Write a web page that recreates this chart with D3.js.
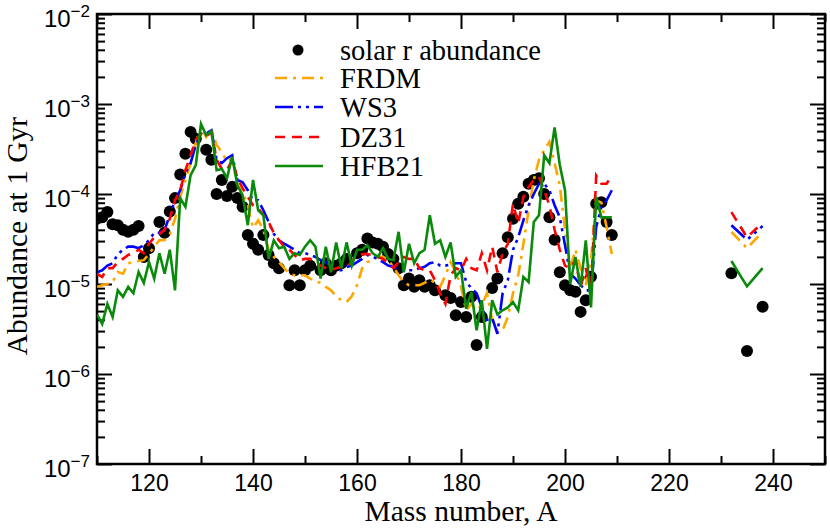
<!DOCTYPE html>
<html lang="en">
<head>
    <meta charset="UTF-8">
    <title>r-process abundances at 1 Gyr</title>
    <script src="https://d3js.org/d3.v7.min.js"></script>
    <style>
        body { margin: 0; background: #fff; }
        .tick text { font-family: "Liberation Sans", Arial, sans-serif; font-size: 23px; fill: #000; }
        .tick line { stroke: #000; stroke-width: 2; }
        .title { font-family: "Liberation Serif", "Times New Roman", serif; font-size: 29.5px; fill: #000; }
        .legend text { font-family: "Liberation Serif", "Times New Roman", serif; font-size: 28.5px; fill: #000; }
    </style>
</head>
<body>
<div id="chart"></div>
<script>
// solar r-process abundances (mass number, abundance)
const solarA = [110,111,112,113,114,115,116,117,118,119,120,122,123,124,125,126,127,128,129,
    131,132,133,134,135,136,137,138,139,140,141,142,143,144,145,147,148,149,150,151,
    153,154,155,156,157,158,160,161,162,163,164,165,166,167,168,169,170,171,172,173,174,175,
    177,178,179,180,181,182,183,184,186,187,188,189,190,191,192,193,194,195,196,197,198,199,
    200,201,202,203,204,205,206,207,208,209,232,235,238];
const solarR = [5.3e-5,5.5e-5,6.3e-5,4.6e-5,4.5e-5,4.0e-5,3.8e-5,4.0e-5,4.4e-5,2.0e-5,2.5e-5,
    4.9e-5,3.7e-5,6.4e-5,9.0e-5,1.65e-4,2.8e-4,4.9e-4,4.1e-4,
    3.1e-4,2.4e-4,1.0e-4,1.43e-4,9.5e-5,1.2e-4,9.0e-5,7.2e-5,3.5e-5,2.8e-5,2.4e-5,3.5e-5,2.1e-5,1.7e-5,1.5e-5,
    9.7e-6,1.42e-5,9.7e-6,1.42e-5,1.6e-5,
    1.42e-5,1.7e-5,1.42e-5,1.6e-5,1.7e-5,1.9e-5,
    2.2e-5,2.4e-5,3.2e-5,2.9e-5,2.8e-5,2.6e-5,2.15e-5,1.9e-5,1.5e-5,9.7e-6,1.15e-5,9.3e-6,1.1e-5,9.3e-6,9.7e-6,8.5e-6,
    7.5e-6,7.0e-6,4.5e-6,6.3e-6,4.3e-6,7.2e-6,2.1e-6,4.3e-6,
    9.0e-6,1.15e-5,2.2e-5,3.3e-5,5.3e-5,7.8e-5,9.3e-5,1.3e-4,1.43e-4,1.5e-4,1.0e-4,5.5e-5,3.1e-5,1.35e-5,
    9.7e-6,8.5e-6,8.2e-6,4.9e-6,6.6e-6,1.2e-5,7.8e-5,8.1e-5,4.9e-5,3.5e-5,1.32e-5,1.8e-6,5.6e-6];

// model curves: one value per mass number from 110 to 209, then the actinides
const modelA = d3.range(110, 210);
const actinideA = [232, 235, 238];

const frdm = [
    9.3e-6,9.7e-6,1.0e-5,1.05e-5,1.36e-5,1.3e-5,1.7e-5,1.75e-5,1.8e-5,1.84e-5,
    2.15e-5,2.6e-5,3.06e-5,3.06e-5,3.6e-5,5.3e-5,9.3e-5,1.43e-4,2.2e-4,3.7e-4,
    5.5e-4,4.3e-4,5.3e-4,3.5e-4,2.9e-4,2.3e-4,2.5e-4,1.25e-4,1.05e-4,7.5e-5,
    4.2e-5,5.1e-5,4.0e-5,2.4e-5,2.0e-5,1.75e-5,1.5e-5,1.3e-5,1.25e-5,1.25e-5,
    1.25e-5,1.15e-5,1.07e-5,1.03e-5,9.3e-6,8.5e-6,7.3e-6,6.6e-6,6.3e-6,7.3e-6,
    9.7e-6,1.5e-5,1.75e-5,1.84e-5,2.0e-5,2.0e-5,1.84e-5,1.55e-5,1.25e-5,1.05e-5,
    9.7e-6,9.7e-6,9.7e-6,1.03e-5,1.12e-5,1.03e-5,9.3e-6,1.25e-5,1.75e-5,1.36e-5,
    9.3e-6,5.1e-6,6.0e-6,5.1e-6,5.8e-6,7.9e-6,4.0e-6,3.06e-6,3.06e-6,4.3e-6,
    7.9e-6,1.25e-5,2.8e-5,6.6e-5,1.43e-4,2.4e-4,3.07e-4,3.8e-4,2.2e-4,1.25e-4,
    4.0e-5,1.5e-5,2.4e-5,1.5e-5,9.7e-6,1.84e-5,8.5e-5,8.0e-5,4.3e-5,2.15e-5];
const ws3 = [
    1.35e-5,1.42e-5,1.6e-5,1.7e-5,2.15e-5,2.4e-5,2.6e-5,2.6e-5,2.5e-5,2.7e-5,
    3.06e-5,3.7e-5,3.7e-5,4.0e-5,5.8e-5,8.5e-5,1.1e-4,1.7e-4,2.2e-4,3.5e-4,
    4.7e-4,4.7e-4,5.1e-4,2.4e-4,2.2e-4,2.5e-4,2.7e-4,1.43e-4,1.35e-4,1.1e-4,
    8.5e-5,8.5e-5,6.6e-5,4.9e-5,3.6e-5,3.06e-5,2.8e-5,2.6e-5,2.4e-5,2.2e-5,
    2.2e-5,2.1e-5,2.0e-5,1.84e-5,1.75e-5,1.55e-5,1.42e-5,1.42e-5,1.55e-5,1.6e-5,
    1.75e-5,1.9e-5,2.1e-5,2.0e-5,1.9e-5,1.75e-5,1.6e-5,1.55e-5,1.42e-5,1.42e-5,
    1.42e-5,1.42e-5,1.5e-5,1.55e-5,1.7e-5,1.75e-5,1.6e-5,1.6e-5,1.65e-5,1.7e-5,
    1.7e-5,1.05e-5,9.0e-6,7.9e-6,5.5e-6,4.0e-6,4.2e-6,2.8e-6,7.9e-6,1.1e-5,
    2.4e-5,3.3e-5,5.1e-5,7.5e-5,1.0e-4,1.3e-4,1.3e-4,1.1e-4,7.5e-5,5.5e-5,
    2.7e-5,1.3e-5,1.15e-5,9.7e-6,8.5e-6,8.5e-6,4.3e-5,7.2e-5,8.5e-5,1.1e-4];
const dz31 = [
    1.3e-5,1.2e-5,1.5e-5,1.5e-5,1.75e-5,1.9e-5,2.1e-5,2.2e-5,2.4e-5,2.2e-5,
    2.8e-5,3.3e-5,3.6e-5,4.0e-5,5.3e-5,8.5e-5,1.1e-4,1.84e-4,2.7e-4,4.0e-4,
    4.7e-4,4.3e-4,4.9e-4,2.4e-4,1.9e-4,1.84e-4,2.4e-4,1.5e-4,1.16e-4,9.3e-5,
    7.5e-5,7.0e-5,5.8e-5,4.9e-5,3.7e-5,3.06e-5,2.6e-5,2.4e-5,2.1e-5,1.84e-5,
    1.9e-5,1.9e-5,1.75e-5,1.6e-5,1.5e-5,1.42e-5,1.5e-5,1.55e-5,1.55e-5,1.75e-5,
    2.1e-5,2.15e-5,2.15e-5,2.1e-5,2.0e-5,1.9e-5,1.7e-5,1.5e-5,1.75e-5,2.0e-5,
    1.9e-5,1.9e-5,1.5e-5,1.42e-5,1.42e-5,1.1e-5,7.9e-6,6.0e-6,1.25e-5,1.5e-5,
    1.42e-5,1.9e-5,1.5e-5,1.42e-5,2.2e-5,1.42e-5,2.6e-5,1.35e-5,2.2e-5,2.8e-5,
    7.8e-5,4.7e-5,9.3e-5,1.2e-4,1.43e-4,1.55e-4,1.1e-4,7.5e-5,4.0e-5,2.4e-5,
    1.6e-5,1.5e-5,1.84e-5,9.3e-6,1.5e-5,7.9e-6,1.6e-4,1.3e-4,1.3e-4,1.6e-4];
const hfb21 = [
    4.6e-6,3.6e-6,6.0e-6,4.3e-6,8.5e-6,7.2e-6,9.3e-6,7.9e-6,1.36e-5,1.03e-5,
    1.75e-5,1.15e-5,2.2e-5,1.3e-5,2.4e-5,8.5e-6,9.0e-5,7.2e-5,1.62e-4,2.1e-4,
    6.0e-4,4.5e-4,5.0e-4,1.84e-4,1.9e-4,1.5e-4,2.6e-4,1.25e-4,9.7e-5,4.5e-5,
    1.43e-4,6.6e-5,5.8e-5,1.9e-5,3.06e-5,2.5e-5,2.6e-5,1.9e-5,2.2e-5,2.1e-5,
    2.6e-5,3.06e-5,2.6e-5,1.15e-5,2.6e-5,1.35e-5,2.9e-5,1.5e-5,2.9e-5,1.6e-5,
    2.4e-5,2.4e-5,2.7e-5,2.2e-5,2.0e-5,2.5e-5,1.9e-5,1.84e-5,3.8e-5,1.35e-5,
    2.8e-5,1.7e-5,2.2e-5,2.4e-5,5.8e-5,2.8e-5,3.06e-5,2.0e-5,2.9e-5,1.2e-5,
    1.42e-5,5.3e-6,8.2e-6,3.06e-6,6.6e-6,1.9e-6,6.6e-6,4.6e-6,5.1e-6,5.5e-6,
    6.3e-6,5.1e-6,1.2e-5,1.05e-5,4.9e-5,5.8e-5,2.7e-4,2.2e-4,5.5e-4,2.1e-4,
    1.1e-4,1.0e-5,2.0e-5,9.3e-6,3.06e-5,5.5e-6,9.3e-5,5.5e-5,5.5e-5,5.5e-5];

const frdmAct = [3.8e-5, 2.5e-5, 3.8e-5];
const ws3Act = [4.5e-5, 3.1e-5, 4.4e-5];
const dz31Act = [6.3e-5, 3.3e-5, 4.8e-5];
const hfb21Act = [1.8e-5, 9.4e-6, 1.5e-5];

const xMajor = [120, 140, 160, 180, 200, 220, 240];
const xMinor = [110, 130, 150, 170, 190, 210, 230, 250];
const yDecades = [1e-7, 1e-6, 1e-5, 1e-4, 1e-3, 1e-2];

// Set up dimensions
const W = 830, H = 528;
const margin = {top: 14, right: 5, bottom: 64, left: 97};
const width = W - margin.left - margin.right;
const height = H - margin.top - margin.bottom;

const svg = d3.select("#chart").append("svg")
    .attr("width", W)
    .attr("height", H);

const g = svg.append("g")
    .attr("transform", `translate(${margin.left},${margin.top})`);

const x = d3.scaleLinear().domain([110, 250]).range([0, width]);
const y = d3.scaleLog().domain([1e-7, 1e-2]).range([height, 0]);

svg.append("defs").append("clipPath").attr("id", "plotclip")
    .append("rect").attr("width", width).attr("height", height);

// minor y ticks: 2..9 per decade
const yMinor = [];
yDecades.slice(0, -1).forEach(d => {
    for (let k = 2; k <= 9; k++) yMinor.push(d * k);
});

// Axes, ticks pointing inward on all four sides
const addAxis = (axis, transform) => {
    const a = g.append("g").attr("transform", transform).call(axis);
    a.select(".domain").remove();
    return a;
};
addAxis(d3.axisBottom(x).tickValues(xMajor).tickSize(-15).tickPadding(11).tickFormat(d3.format("d")), `translate(0,${height})`);
addAxis(d3.axisBottom(x).tickValues(xMinor).tickSize(-8).tickFormat(""), `translate(0,${height})`);
addAxis(d3.axisTop(x).tickValues(xMajor).tickSize(-15).tickFormat(""), "translate(0,0)");
addAxis(d3.axisTop(x).tickValues(xMinor).tickSize(-8).tickFormat(""), "translate(0,0)");

const yAx = addAxis(d3.axisLeft(y).tickValues(yDecades).tickSize(-15).tickFormat(""), "translate(0,0)");
addAxis(d3.axisLeft(y).tickValues(yMinor).tickSize(-8).tickFormat(""), "translate(0,0)");
addAxis(d3.axisRight(y).tickValues(yDecades).tickSize(-15).tickFormat(""), `translate(${width},0)`);
addAxis(d3.axisRight(y).tickValues(yMinor).tickSize(-8).tickFormat(""), `translate(${width},0)`);

// y labels as 10^n
yAx.selectAll(".tick").append("text")
    .attr("x", -7)
    .attr("y", 12)
    .attr("text-anchor", "end")
    .style("font-size", "24px")
    .each(function(d) {
        const t = d3.select(this);
        t.append("tspan").text("10");
        t.append("tspan").attr("dy", -10).style("font-size", "17px")
            .text("\u2212" + Math.round(-Math.log10(d)));
    });

// frame
g.append("rect")
    .attr("width", width).attr("height", height)
    .attr("fill", "none").attr("stroke", "#000").attr("stroke-width", 2.5);

// axis titles
svg.append("text").attr("class", "title")
    .attr("x", margin.left + width / 2).attr("y", 521)
    .attr("text-anchor", "middle")
    .text("Mass number, A");
svg.append("text").attr("class", "title")
    .attr("transform", `translate(27,236) rotate(-90)`)
    .attr("text-anchor", "middle")
    .text("Abundance at 1 Gyr");

// data
const plot = g.append("g").attr("clip-path", "url(#plotclip)");

const solar = solarA.map((a, i) => ({a: a, v: solarR[i]}));
plot.selectAll(".dot")
    .data(solar)
    .enter().append("circle")
    .attr("class", "dot")
    .attr("cx", d => x(d.a))
    .attr("cy", d => y(d.v))
    .attr("r", 6)
    .attr("fill", "#000");

const models = [
    {name: "FRDM", vals: frdm, act: frdmAct, color: "#ffa500", dash: "12,6,3,6"},
    {name: "WS3", vals: ws3, act: ws3Act, color: "#0000ff", dash: "18,5,3,5,3,5"},
    {name: "DZ31", vals: dz31, act: dz31Act, color: "#ff0000", dash: "10,7"},
    {name: "HFB21", vals: hfb21, act: hfb21Act, color: "#0a8a0a", dash: null}
];

const line = d3.line().x(d => x(d.a)).y(d => y(d.v));

models.forEach(m => {
    const main = modelA.map((a, i) => ({a: a, v: m.vals[i]}));
    const act = actinideA.map((a, i) => ({a: a, v: m.act[i]}));
    [main, act].forEach(seg => {
        plot.append("path")
            .datum(seg)
            .attr("d", line)
            .attr("fill", "none")
            .attr("stroke", m.color)
            .attr("stroke-width", 2.6)
            .attr("stroke-dasharray", m.dash);
    });
});

// legend
const legend = svg.append("g").attr("class", "legend");
const rowY = [50, 78, 107, 137, 166];
legend.append("circle").attr("cx", 298).attr("cy", rowY[0]).attr("r", 5.5).attr("fill", "#000");
legend.append("text").attr("x", 340).attr("y", rowY[0] + 10).text("solar r abundance");
models.forEach((m, i) => {
    const yy = rowY[i + 1];
    legend.append("line")
        .attr("x1", 275).attr("x2", 323).attr("y1", yy).attr("y2", yy)
        .attr("stroke", m.color).attr("stroke-width", 2.6)
        .attr("stroke-dasharray", m.dash);
    legend.append("text").attr("x", 340).attr("y", yy + 10).text(m.name);
});
</script>
</body>
</html>
